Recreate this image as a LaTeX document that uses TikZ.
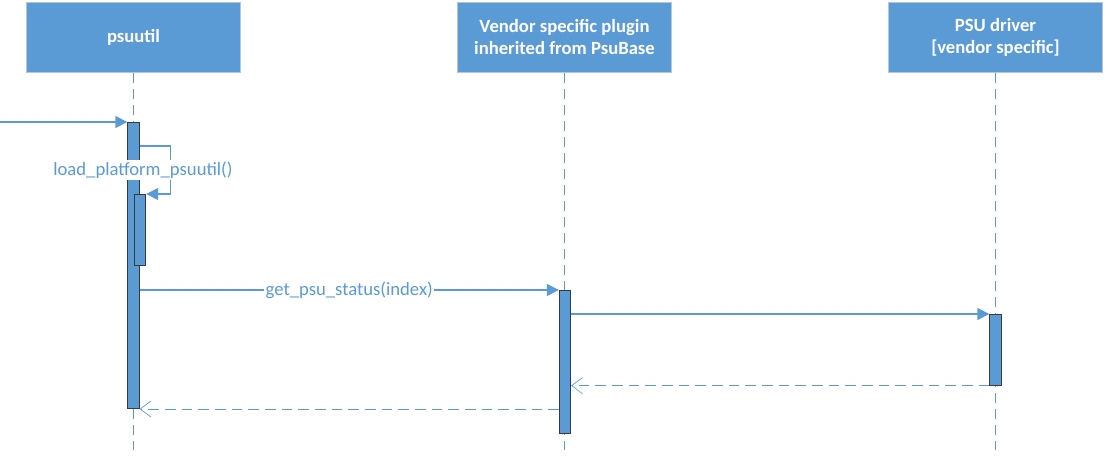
\documentclass[tikz,border=0pt]{standalone}
\usepackage{fontspec}
\setmainfont{Carlito}
\usepackage{xcolor}
\usepackage{tikz}
\usetikzlibrary{arrows.meta,calc,positioning}
\definecolor{seqblue}{HTML}{5B9BD5}
\definecolor{seqedge}{HTML}{3A3A3A}

\begin{document}
\begin{tikzpicture}[x=0.75pt, y=-0.75pt,
  party/.style={rectangle, fill=seqblue, draw=seqblue!60!gray!50, line width=0.6pt,
    minimum width=161pt, minimum height=53pt, align=center,
    text=white, font=\bfseries\fontsize{14}{16.5}\selectfont},
  act/.style={rectangle, fill=seqblue, draw=seqedge, line width=0.75pt,
    minimum width=8.5pt, anchor=north, inner sep=0pt},
  lifeline/.style={seqblue, line width=0.75pt, dash pattern=on 7pt off 5pt},
  msg/.style={seqblue, line width=1pt, -{Triangle[length=9pt, width=9pt]}},
  reply/.style={seqblue, line width=0.75pt, dash pattern=on 8pt off 4.5pt,
    -{Straight Barb[length=8pt, width=12pt, line width=0.5pt]}},
  lbl/.style={fill=white, inner sep=1pt, text=seqblue, font=\fontsize{14}{16.5}\selectfont}]

  \useasboundingbox (0,0) rectangle (1110,465);

  % Participants
  \node[party] (psuutil) at (133.5,37.5) {psuutil};
  \node[party] (plugin)  at (564.5,37.5) {Vendor specific plugin\\inherited from PsuBase};
  \node[party] (driver)  at (995.5,37.5) {PSU driver\\{[}vendor specific{]}};

  % Lifelines
  \draw[lifeline] (psuutil.south) -- ++(0,377);
  \draw[lifeline] (plugin.south)  -- ++(0,377);
  \draw[lifeline] (driver.south)  -- ++(0,377);

  % Activations
  \node[act, minimum height=214.5pt] (actA) at (133.5,122) {};
  \node[act, minimum height=53pt]    (actB) at (140,194) {};
  \node[act, minimum height=107pt]   (actC) at (565,290) {};
  \node[act, minimum height=53pt]    (actD) at (995.5,314) {};

  % Messages
  \coordinate (caller) at (0,122);
  \draw[msg] (caller) -- (actA.north west);
  \draw[msg] ($(actA.north east)+(0,24)$) -- ++(31,0) |- (actB.north east);
  \node[lbl] (selfcall) at (143,170) {load\_platform\_psuutil()};
  \draw[msg] (actA.east |- actC.north west) -- (actC.north west)
    node[midway, lbl] (getstatus) {get\_psu\_status(index)};
  \draw[msg] (actC.east |- actD.north west) -- (actD.north west);

  % Returns
  \draw[reply] (actD.south west) -- (actC.east |- actD.south west);
  \draw[reply] (actC.west |- actA.south east) -- (actA.south east);

\end{tikzpicture}
\end{document}
